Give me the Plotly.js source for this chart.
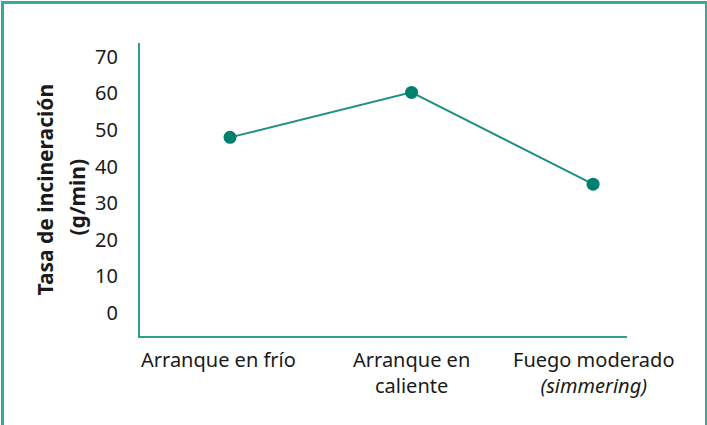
<!DOCTYPE html>
<html>
<head>
<meta charset="utf-8">
<script src="https://cdn.plot.ly/plotly-3.0.1.min.js"></script>
<style>
  html, body { margin: 0; padding: 0; background: #fff; }
  #wrap { position: relative; width: 707px; height: 425px; }
  #plot { width: 707px; height: 425px; }
  #frame {
    position: absolute; left: 1px; top: 1px; width: 701px; height: 430px;
    border: 3px solid #3aa89b; border-bottom: none; pointer-events: none;
  }
</style>
</head>
<body>
<div id="wrap">
  <div id="plot"></div>
  <div id="frame"></div>
</div>
<script>
(function(){
  // ---------- Data ----------
  const categories = ['Arranque en frío', 'Arranque en<br>caliente', 'Fuego moderado<br><i>(simmering)</i>'];
  const rates = [48, 60.3, 35.2];
  const yTicks = [0, 10, 20, 30, 40, 50, 60, 70];
  const yTitleLines = ['Tasa de incineración', '(g/min)'];

  // ---------- Style ----------
  const teal = '#2e9e90';
  const lineTeal = '#1f8f80';
  const dotTeal = '#00806e';
  const textColor = '#1a1a1a';
  const font = 'Noto Sans, Open Sans, sans-serif';
  const labelShift = [-12, 0, 0];

  const trace = {
    x: categories.map((c, i) => i),
    y: rates,
    mode: 'lines+markers',
    line: { color: lineTeal, width: 2 },
    marker: { color: dotTeal, size: 13 },
    cliponaxis: false,
    hoverinfo: 'y'
  };

  // category labels as annotations (the first one sits a bit left of its point)
  const catAnn = categories.map((c, i) => ({
    text: c, xref: 'x', yref: 'paper', x: i, y: 0,
    xanchor: 'center', yanchor: 'top', showarrow: false, align: 'center',
    xshift: labelShift[i], yshift: -8,
    font: { family: font, size: 20, color: textColor }
  }));

  const titleAnn = yTitleLines.map((txt, i) => ({
    text: txt, xref: 'paper', yref: 'paper', x: 0, y: 0.5,
    xanchor: 'center', yanchor: 'middle', textangle: -90, showarrow: false,
    xshift: [-96, -64][i], yshift: [0, -8][i],
    font: { family: font, size: 21, color: textColor, weight: 'bold' }
  }));

  const layout = {
    width: 707, height: 425,
    margin: { l: 140, r: 80, t: 43, b: 89 },
    paper_bgcolor: '#fff', plot_bgcolor: '#fff',
    showlegend: false,
    xaxis: {
      range: [-0.496, 2.187],
      tickvals: [0, 1, 2], showticklabels: false,
      showgrid: false, zeroline: false,
      showline: true, linecolor: teal, linewidth: 2,
      ticks: ''
    },
    yaxis: {
      range: [-6.3, 73.8],
      tickvals: yTicks,
      showgrid: false, zeroline: false,
      showline: true, linecolor: teal, linewidth: 2,
      ticks: '', ticklabelstandoff: 16,
      tickfont: { family: font, size: 20, color: textColor }
    },
    annotations: catAnn.concat(titleAnn)
  };

  Plotly.newPlot('plot', [trace], layout, { displayModeBar: false, staticPlot: true });
})();
</script>
</body>
</html>
